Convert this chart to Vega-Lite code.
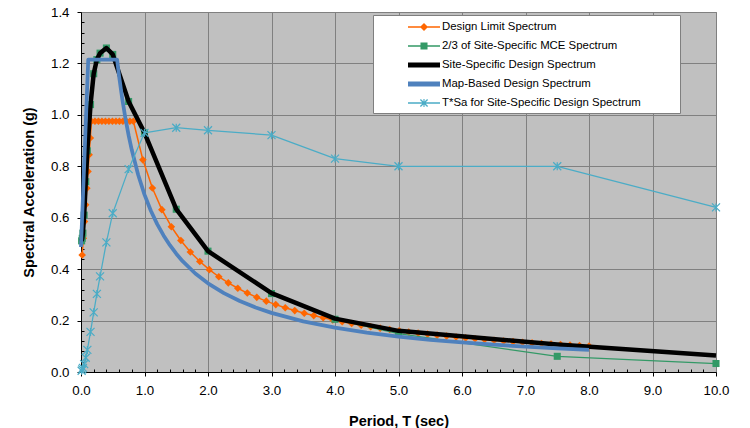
{
  "$schema": "https://vega.github.io/schema/vega-lite/v6.json",
  "width": 635,
  "height": 360,
  "autosize": {"type": "none"},
  "padding": {"left": 81, "top": 12, "right": 34, "bottom": 56},
  "background": "white",
  "config": {
    "font": "Liberation Sans",
    "view": {"fill": "#C0C0C0", "stroke": "#808080", "strokeWidth": 1},
    "axis": {
      "labelFont": "Liberation Sans",
      "titleFont": "Liberation Sans",
      "labelColor": "black",
      "titleColor": "black",
      "domainColor": "black",
      "domainWidth": 1,
      "tickColor": "black",
      "tickWidth": 1,
      "gridColor": "#808080",
      "gridOpacity": 1,
      "gridWidth": 1,
      "labelFontSize": 13.3,
      "titleFontSize": 14.5,
      "titleFontWeight": "bold",
      "labelFlush": false,
      "labelOverlap": false
    }
  },
  "data": {
    "values": [
      {"s": "Design Limit Spectrum", "T": 0.0183, "Sa": 0.455},
      {"s": "Design Limit Spectrum", "T": 0.0367, "Sa": 0.52},
      {"s": "Design Limit Spectrum", "T": 0.055, "Sa": 0.585},
      {"s": "Design Limit Spectrum", "T": 0.0733, "Sa": 0.65},
      {"s": "Design Limit Spectrum", "T": 0.0917, "Sa": 0.715},
      {"s": "Design Limit Spectrum", "T": 0.11, "Sa": 0.78},
      {"s": "Design Limit Spectrum", "T": 0.1283, "Sa": 0.845},
      {"s": "Design Limit Spectrum", "T": 0.1467, "Sa": 0.91},
      {"s": "Design Limit Spectrum", "T": 0.165, "Sa": 0.975},
      {"s": "Design Limit Spectrum", "T": 0.22, "Sa": 0.975},
      {"s": "Design Limit Spectrum", "T": 0.275, "Sa": 0.975},
      {"s": "Design Limit Spectrum", "T": 0.33, "Sa": 0.975},
      {"s": "Design Limit Spectrum", "T": 0.385, "Sa": 0.975},
      {"s": "Design Limit Spectrum", "T": 0.44, "Sa": 0.975},
      {"s": "Design Limit Spectrum", "T": 0.495, "Sa": 0.975},
      {"s": "Design Limit Spectrum", "T": 0.55, "Sa": 0.975},
      {"s": "Design Limit Spectrum", "T": 0.605, "Sa": 0.975},
      {"s": "Design Limit Spectrum", "T": 0.66, "Sa": 0.975},
      {"s": "Design Limit Spectrum", "T": 0.715, "Sa": 0.975},
      {"s": "Design Limit Spectrum", "T": 0.77, "Sa": 0.975},
      {"s": "Design Limit Spectrum", "T": 0.825, "Sa": 0.975},
      {"s": "Design Limit Spectrum", "T": 0.9745, "Sa": 0.825},
      {"s": "Design Limit Spectrum", "T": 1.124, "Sa": 0.7153},
      {"s": "Design Limit Spectrum", "T": 1.2734, "Sa": 0.6314},
      {"s": "Design Limit Spectrum", "T": 1.4229, "Sa": 0.565},
      {"s": "Design Limit Spectrum", "T": 1.5724, "Sa": 0.5113},
      {"s": "Design Limit Spectrum", "T": 1.7219, "Sa": 0.4669},
      {"s": "Design Limit Spectrum", "T": 1.8714, "Sa": 0.4296},
      {"s": "Design Limit Spectrum", "T": 2.0208, "Sa": 0.3979},
      {"s": "Design Limit Spectrum", "T": 2.1703, "Sa": 0.3705},
      {"s": "Design Limit Spectrum", "T": 2.3198, "Sa": 0.3466},
      {"s": "Design Limit Spectrum", "T": 2.4693, "Sa": 0.3256},
      {"s": "Design Limit Spectrum", "T": 2.6188, "Sa": 0.307},
      {"s": "Design Limit Spectrum", "T": 2.7682, "Sa": 0.2904},
      {"s": "Design Limit Spectrum", "T": 2.9177, "Sa": 0.2756},
      {"s": "Design Limit Spectrum", "T": 3.0672, "Sa": 0.2621},
      {"s": "Design Limit Spectrum", "T": 3.2167, "Sa": 0.2499},
      {"s": "Design Limit Spectrum", "T": 3.3661, "Sa": 0.2389},
      {"s": "Design Limit Spectrum", "T": 3.5156, "Sa": 0.2287},
      {"s": "Design Limit Spectrum", "T": 3.6651, "Sa": 0.2194},
      {"s": "Design Limit Spectrum", "T": 3.8146, "Sa": 0.2108},
      {"s": "Design Limit Spectrum", "T": 3.9641, "Sa": 0.2028},
      {"s": "Design Limit Spectrum", "T": 4.1135, "Sa": 0.1955},
      {"s": "Design Limit Spectrum", "T": 4.263, "Sa": 0.1886},
      {"s": "Design Limit Spectrum", "T": 4.4125, "Sa": 0.1822},
      {"s": "Design Limit Spectrum", "T": 4.562, "Sa": 0.1762},
      {"s": "Design Limit Spectrum", "T": 4.7115, "Sa": 0.1706},
      {"s": "Design Limit Spectrum", "T": 4.8609, "Sa": 0.1654},
      {"s": "Design Limit Spectrum", "T": 5.0104, "Sa": 0.1605},
      {"s": "Design Limit Spectrum", "T": 5.1599, "Sa": 0.1558},
      {"s": "Design Limit Spectrum", "T": 5.3094, "Sa": 0.1514},
      {"s": "Design Limit Spectrum", "T": 5.4589, "Sa": 0.1473},
      {"s": "Design Limit Spectrum", "T": 5.6083, "Sa": 0.1434},
      {"s": "Design Limit Spectrum", "T": 5.7578, "Sa": 0.1396},
      {"s": "Design Limit Spectrum", "T": 5.9073, "Sa": 0.1361},
      {"s": "Design Limit Spectrum", "T": 6.0568, "Sa": 0.1327},
      {"s": "Design Limit Spectrum", "T": 6.2063, "Sa": 0.1295},
      {"s": "Design Limit Spectrum", "T": 6.3557, "Sa": 0.1265},
      {"s": "Design Limit Spectrum", "T": 6.5052, "Sa": 0.1236},
      {"s": "Design Limit Spectrum", "T": 6.6547, "Sa": 0.1208},
      {"s": "Design Limit Spectrum", "T": 6.8042, "Sa": 0.1182},
      {"s": "Design Limit Spectrum", "T": 6.9536, "Sa": 0.1156},
      {"s": "Design Limit Spectrum", "T": 7.1031, "Sa": 0.1132},
      {"s": "Design Limit Spectrum", "T": 7.2526, "Sa": 0.1109},
      {"s": "Design Limit Spectrum", "T": 7.4021, "Sa": 0.1086},
      {"s": "Design Limit Spectrum", "T": 7.5516, "Sa": 0.1065},
      {"s": "Design Limit Spectrum", "T": 7.701, "Sa": 0.1044},
      {"s": "Design Limit Spectrum", "T": 7.8505, "Sa": 0.1024},
      {"s": "Design Limit Spectrum", "T": 8.0, "Sa": 0.1005},

      {"s": "2/3 of Site-Specific MCE Spectrum", "T": 0.01, "Sa": 0.51},
      {"s": "2/3 of Site-Specific MCE Spectrum", "T": 0.02, "Sa": 0.52},
      {"s": "2/3 of Site-Specific MCE Spectrum", "T": 0.03, "Sa": 0.54},
      {"s": "2/3 of Site-Specific MCE Spectrum", "T": 0.05, "Sa": 0.61},
      {"s": "2/3 of Site-Specific MCE Spectrum", "T": 0.075, "Sa": 0.74},
      {"s": "2/3 of Site-Specific MCE Spectrum", "T": 0.1, "Sa": 0.86},
      {"s": "2/3 of Site-Specific MCE Spectrum", "T": 0.15, "Sa": 1.04},
      {"s": "2/3 of Site-Specific MCE Spectrum", "T": 0.2, "Sa": 1.16},
      {"s": "2/3 of Site-Specific MCE Spectrum", "T": 0.25, "Sa": 1.215},
      {"s": "2/3 of Site-Specific MCE Spectrum", "T": 0.3, "Sa": 1.24},
      {"s": "2/3 of Site-Specific MCE Spectrum", "T": 0.4, "Sa": 1.26},
      {"s": "2/3 of Site-Specific MCE Spectrum", "T": 0.5, "Sa": 1.235},
      {"s": "2/3 of Site-Specific MCE Spectrum", "T": 0.75, "Sa": 1.052},
      {"s": "2/3 of Site-Specific MCE Spectrum", "T": 1.0, "Sa": 0.93},
      {"s": "2/3 of Site-Specific MCE Spectrum", "T": 1.5, "Sa": 0.633},
      {"s": "2/3 of Site-Specific MCE Spectrum", "T": 2.0, "Sa": 0.47},
      {"s": "2/3 of Site-Specific MCE Spectrum", "T": 3.0, "Sa": 0.305},
      {"s": "2/3 of Site-Specific MCE Spectrum", "T": 4.0, "Sa": 0.205},
      {"s": "2/3 of Site-Specific MCE Spectrum", "T": 5.0, "Sa": 0.149},
      {"s": "2/3 of Site-Specific MCE Spectrum", "T": 7.5, "Sa": 0.061},
      {"s": "2/3 of Site-Specific MCE Spectrum", "T": 10.0, "Sa": 0.033},

      {"s": "Site-Specific Design Spectrum", "T": 0.01, "Sa": 0.51},
      {"s": "Site-Specific Design Spectrum", "T": 0.02, "Sa": 0.52},
      {"s": "Site-Specific Design Spectrum", "T": 0.03, "Sa": 0.54},
      {"s": "Site-Specific Design Spectrum", "T": 0.05, "Sa": 0.61},
      {"s": "Site-Specific Design Spectrum", "T": 0.075, "Sa": 0.74},
      {"s": "Site-Specific Design Spectrum", "T": 0.1, "Sa": 0.86},
      {"s": "Site-Specific Design Spectrum", "T": 0.15, "Sa": 1.04},
      {"s": "Site-Specific Design Spectrum", "T": 0.2, "Sa": 1.16},
      {"s": "Site-Specific Design Spectrum", "T": 0.25, "Sa": 1.215},
      {"s": "Site-Specific Design Spectrum", "T": 0.3, "Sa": 1.24},
      {"s": "Site-Specific Design Spectrum", "T": 0.4, "Sa": 1.26},
      {"s": "Site-Specific Design Spectrum", "T": 0.5, "Sa": 1.235},
      {"s": "Site-Specific Design Spectrum", "T": 0.75, "Sa": 1.052},
      {"s": "Site-Specific Design Spectrum", "T": 1.0, "Sa": 0.93},
      {"s": "Site-Specific Design Spectrum", "T": 1.5, "Sa": 0.633},
      {"s": "Site-Specific Design Spectrum", "T": 2.0, "Sa": 0.47},
      {"s": "Site-Specific Design Spectrum", "T": 3.0, "Sa": 0.307},
      {"s": "Site-Specific Design Spectrum", "T": 4.0, "Sa": 0.2075},
      {"s": "Site-Specific Design Spectrum", "T": 5.0, "Sa": 0.16},
      {"s": "Site-Specific Design Spectrum", "T": 7.5, "Sa": 0.1067},
      {"s": "Site-Specific Design Spectrum", "T": 10.0, "Sa": 0.064},

      {"s": "Map-Based Design Spectrum", "T": 0.0, "Sa": 0.486},
      {"s": "Map-Based Design Spectrum", "T": 0.114, "Sa": 1.215},
      {"s": "Map-Based Design Spectrum", "T": 0.568, "Sa": 1.215},
      {"s": "Map-Based Design Spectrum", "T": 0.6, "Sa": 1.15},
      {"s": "Map-Based Design Spectrum", "T": 0.65, "Sa": 1.062},
      {"s": "Map-Based Design Spectrum", "T": 0.7, "Sa": 0.986},
      {"s": "Map-Based Design Spectrum", "T": 0.75, "Sa": 0.92},
      {"s": "Map-Based Design Spectrum", "T": 0.8, "Sa": 0.863},
      {"s": "Map-Based Design Spectrum", "T": 0.9, "Sa": 0.767},
      {"s": "Map-Based Design Spectrum", "T": 1.0, "Sa": 0.69},
      {"s": "Map-Based Design Spectrum", "T": 1.1, "Sa": 0.627},
      {"s": "Map-Based Design Spectrum", "T": 1.2, "Sa": 0.575},
      {"s": "Map-Based Design Spectrum", "T": 1.3, "Sa": 0.531},
      {"s": "Map-Based Design Spectrum", "T": 1.4, "Sa": 0.493},
      {"s": "Map-Based Design Spectrum", "T": 1.5, "Sa": 0.46},
      {"s": "Map-Based Design Spectrum", "T": 1.6, "Sa": 0.431},
      {"s": "Map-Based Design Spectrum", "T": 1.8, "Sa": 0.383},
      {"s": "Map-Based Design Spectrum", "T": 2.0, "Sa": 0.345},
      {"s": "Map-Based Design Spectrum", "T": 2.25, "Sa": 0.307},
      {"s": "Map-Based Design Spectrum", "T": 2.5, "Sa": 0.276},
      {"s": "Map-Based Design Spectrum", "T": 2.75, "Sa": 0.251},
      {"s": "Map-Based Design Spectrum", "T": 3.0, "Sa": 0.23},
      {"s": "Map-Based Design Spectrum", "T": 3.5, "Sa": 0.197},
      {"s": "Map-Based Design Spectrum", "T": 4.0, "Sa": 0.1725},
      {"s": "Map-Based Design Spectrum", "T": 4.5, "Sa": 0.153},
      {"s": "Map-Based Design Spectrum", "T": 5.0, "Sa": 0.138},
      {"s": "Map-Based Design Spectrum", "T": 5.5, "Sa": 0.125},
      {"s": "Map-Based Design Spectrum", "T": 6.0, "Sa": 0.115},
      {"s": "Map-Based Design Spectrum", "T": 6.5, "Sa": 0.106},
      {"s": "Map-Based Design Spectrum", "T": 7.0, "Sa": 0.0986},
      {"s": "Map-Based Design Spectrum", "T": 7.5, "Sa": 0.092},
      {"s": "Map-Based Design Spectrum", "T": 8.0, "Sa": 0.0863},

      {"s": "T*Sa for Site-Specific Design Spectrum", "T": 0.01, "Sa": 0.0051},
      {"s": "T*Sa for Site-Specific Design Spectrum", "T": 0.02, "Sa": 0.0104},
      {"s": "T*Sa for Site-Specific Design Spectrum", "T": 0.03, "Sa": 0.0162},
      {"s": "T*Sa for Site-Specific Design Spectrum", "T": 0.05, "Sa": 0.0305},
      {"s": "T*Sa for Site-Specific Design Spectrum", "T": 0.075, "Sa": 0.0555},
      {"s": "T*Sa for Site-Specific Design Spectrum", "T": 0.1, "Sa": 0.086},
      {"s": "T*Sa for Site-Specific Design Spectrum", "T": 0.15, "Sa": 0.156},
      {"s": "T*Sa for Site-Specific Design Spectrum", "T": 0.2, "Sa": 0.232},
      {"s": "T*Sa for Site-Specific Design Spectrum", "T": 0.25, "Sa": 0.3038},
      {"s": "T*Sa for Site-Specific Design Spectrum", "T": 0.3, "Sa": 0.372},
      {"s": "T*Sa for Site-Specific Design Spectrum", "T": 0.4, "Sa": 0.504},
      {"s": "T*Sa for Site-Specific Design Spectrum", "T": 0.5, "Sa": 0.6175},
      {"s": "T*Sa for Site-Specific Design Spectrum", "T": 0.75, "Sa": 0.789},
      {"s": "T*Sa for Site-Specific Design Spectrum", "T": 1.0, "Sa": 0.93},
      {"s": "T*Sa for Site-Specific Design Spectrum", "T": 1.5, "Sa": 0.95},
      {"s": "T*Sa for Site-Specific Design Spectrum", "T": 2.0, "Sa": 0.94},
      {"s": "T*Sa for Site-Specific Design Spectrum", "T": 3.0, "Sa": 0.921},
      {"s": "T*Sa for Site-Specific Design Spectrum", "T": 4.0, "Sa": 0.83},
      {"s": "T*Sa for Site-Specific Design Spectrum", "T": 5.0, "Sa": 0.8},
      {"s": "T*Sa for Site-Specific Design Spectrum", "T": 7.5, "Sa": 0.8},
      {"s": "T*Sa for Site-Specific Design Spectrum", "T": 10.0, "Sa": 0.64}
    ]
  },
  "layer": [
    {
      "mark": {"type": "point", "filled": true, "opacity": 0},
      "encoding": {
        "x": {"field": "T", "type": "quantitative", "axis": null, "scale": {"domain": [0, 10], "nice": false, "zero": false}},
        "y": {"field": "Sa", "type": "quantitative", "axis": null, "scale": {"domain": [0, 1.4], "nice": false}},
        "color": {
          "field": "s",
          "type": "nominal",
          "scale": {
            "domain": ["Design Limit Spectrum", "2/3 of Site-Specific MCE Spectrum", "Site-Specific Design Spectrum", "Map-Based Design Spectrum", "T*Sa for Site-Specific Design Spectrum"],
            "range": ["#FF6600", "#339966", "#000000", "#4F81BD", "#4BACC6"]
          },
          "legend": {
            "title": null,
            "orient": "none",
            "legendX": 292,
            "legendY": 3,
            "fillColor": "white",
            "strokeColor": "#7F7F7F",
            "padding": 4,
            "rowPadding": 5,
            "symbolSize": 256,
            "symbolOffset": 39,
            "symbolOpacity": 1,
            "symbolStrokeWidth": 0,
            "labelOffset": 10,
            "labelFont": "Liberation Sans",
            "labelFontSize": 11.4,
            "labelColor": "black",
            "labelLimit": 400
          }
        },
        "shape": {
          "field": "s",
          "type": "nominal",
          "scale": {
            "domain": ["Design Limit Spectrum", "2/3 of Site-Specific MCE Spectrum", "Site-Specific Design Spectrum", "Map-Based Design Spectrum", "T*Sa for Site-Specific Design Spectrum"],
            "range": [
              "M-2,-0.1H2V0.1H-2ZM0,-0.5L0.5,0L0,0.5L-0.5,0ZM31.4,0",
              "M-2,-0.09H2V0.09H-2ZM-0.44,-0.44H0.44V0.44H-0.44ZM31.4,0",
              "M-2,-0.3H2V0.3H-2ZM31.4,0",
              "M-2,-0.3H2V0.3H-2ZM31.4,0",
              "M-2,-0.08H2V0.08H-2ZM-0.51,-0.39L-0.39,-0.51L0.51,0.39L0.39,0.51ZM-0.51,0.39L0.39,-0.51L0.51,-0.39L-0.39,0.51ZM-0.07,-0.5H0.07V0.5H-0.07ZM31.4,0"
            ]
          },
          "legend": {
            "title": null,
            "orient": "none",
            "legendX": 292,
            "legendY": 3,
            "fillColor": "white",
            "strokeColor": "#7F7F7F",
            "padding": 4,
            "rowPadding": 5,
            "symbolSize": 256,
            "symbolOffset": 39,
            "symbolOpacity": 1,
            "symbolStrokeWidth": 0,
            "labelOffset": 10,
            "labelFont": "Liberation Sans",
            "labelFontSize": 11.4,
            "labelColor": "black",
            "labelLimit": 400
          }
        }
      }
    },
    {
      "transform": [{"filter": {"field": "s", "equal": "Design Limit Spectrum"}}],
      "mark": {"type": "line", "color": "#FF6600", "strokeWidth": 1.5, "strokeJoin": "round",
               "point": {"shape": "diamond", "filled": true, "size": 58, "color": "#FF6600"}},
      "encoding": {
        "x": {"field": "T", "type": "quantitative", "axis": null},
        "y": {"field": "Sa", "type": "quantitative", "axis": null}
      }
    },
    {
      "transform": [{"filter": {"field": "s", "equal": "2/3 of Site-Specific MCE Spectrum"}}],
      "mark": {"type": "line", "color": "#339966", "strokeWidth": 1.25, "strokeJoin": "round",
               "point": {"shape": "square", "filled": true, "size": 50, "color": "#339966"}},
      "encoding": {
        "x": {"field": "T", "type": "quantitative", "axis": null},
        "y": {"field": "Sa", "type": "quantitative", "axis": null}
      }
    },
    {
      "transform": [{"filter": {"field": "s", "equal": "Site-Specific Design Spectrum"}}],
      "mark": {"type": "line", "color": "#000000", "strokeWidth": 4.5, "strokeJoin": "round"},
      "encoding": {
        "x": {
          "field": "T", "type": "quantitative",
          "axis": {
            "orient": "bottom",
            "values": [0, 1, 2, 3, 4, 5, 6, 7, 8, 9, 10],
            "format": ".1f",
            "tickSize": 4,
            "labelPadding": 7,
            "grid": true,
            "title": "Period, T (sec)",
            "titleBaseline": "middle",
            "titleAlign": "center",
            "titleX": 317.5,
            "titleY": 49
          }
        },
        "y": {
          "field": "Sa", "type": "quantitative",
          "axis": {
            "orient": "left",
            "values": [0, 0.2, 0.4, 0.6, 0.8, 1.0, 1.2, 1.4],
            "format": ".1f",
            "tickSize": 4,
            "labelPadding": 8,
            "grid": true,
            "title": "Spectral Acceleration (g)",
            "titleAngle": -90,
            "titleBaseline": "middle",
            "titleAlign": "center",
            "titleX": -52,
            "titleY": 180
          }
        }
      }
    },
    {
      "transform": [{"filter": {"field": "s", "equal": "Map-Based Design Spectrum"}}],
      "mark": {"type": "line", "color": "#4F81BD", "strokeWidth": 3.75, "strokeJoin": "round"},
      "encoding": {
        "x": {
          "field": "T", "type": "quantitative",
          "axis": {
            "orient": "bottom",
            "values": [0.2, 0.4, 0.6, 0.8, 1.2, 1.4, 1.6, 1.8, 2.2, 2.4, 2.6, 2.8, 3.2, 3.4, 3.6, 3.8, 4.2, 4.4, 4.6, 4.8, 5.2, 5.4, 5.6, 5.8, 6.2, 6.4, 6.6, 6.8, 7.2, 7.4, 7.6, 7.8, 8.2, 8.4, 8.6, 8.8, 9.2, 9.4, 9.6, 9.8],
            "offset": -3,
            "tickSize": 3,
            "domain": false,
            "labels": false,
            "grid": false,
            "title": null
          }
        },
        "y": {
          "field": "Sa", "type": "quantitative",
          "axis": {
            "orient": "left",
            "values": [0.04, 0.08, 0.12, 0.16, 0.24, 0.28, 0.32, 0.36, 0.44, 0.48, 0.52, 0.56, 0.64, 0.68, 0.72, 0.76, 0.84, 0.88, 0.92, 0.96, 1.04, 1.08, 1.12, 1.16, 1.24, 1.28, 1.32, 1.36],
            "offset": -3,
            "tickSize": 3,
            "domain": false,
            "labels": false,
            "grid": false,
            "title": null
          }
        }
      }
    },
    {
      "transform": [{"filter": {"field": "s", "equal": "T*Sa for Site-Specific Design Spectrum"}}],
      "mark": {"type": "line", "color": "#4BACC6", "strokeWidth": 1.25, "strokeJoin": "round",
               "point": {"shape": "M-1,-1L1,1M-1,1L1,-1M0,-1L0,1", "filled": false, "size": 64, "strokeWidth": 1.25, "color": "#4BACC6"}},
      "encoding": {
        "x": {"field": "T", "type": "quantitative", "axis": null},
        "y": {"field": "Sa", "type": "quantitative", "axis": null}
      }
    }
  ],
  "resolve": {"axis": {"x": "independent", "y": "independent"}}
}
